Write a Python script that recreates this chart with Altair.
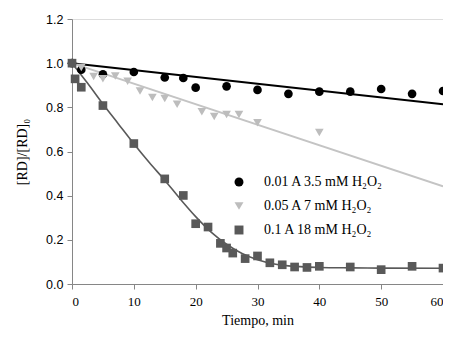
import altair as alt
import pandas as pd

# ---- data ----
s1_name = "0.01 A 3.5 mM H₂O₂"
s2_name = "0.05 A 7 mM H₂O₂"
s3_name = "0.1 A 18 mM H₂O₂"

s1_x = [0, 1.5, 5, 10, 15, 18, 20, 25, 30, 35, 40, 45, 50, 55, 60]
s1_y = [1.0, 0.97, 0.95, 0.96, 0.935, 0.933, 0.889, 0.895, 0.879, 0.861, 0.871, 0.871, 0.883, 0.861, 0.874]

s2_x = [0, 1.5, 3.5, 5, 7, 9, 11, 13, 15, 17, 21, 23, 25, 27, 30, 40]
s2_y = [1.0, 0.98, 0.94, 0.93, 0.942, 0.918, 0.874, 0.844, 0.84, 0.814, 0.78, 0.758, 0.767, 0.767, 0.73, 0.686]

s3_x = [0, 0.5, 1.5, 5, 10, 15, 18, 20, 22, 24, 25, 26, 28, 30, 32, 34, 36, 38, 40, 45, 50, 55, 60]
s3_y = [1.0, 0.929, 0.891, 0.808, 0.636, 0.476, 0.401, 0.273, 0.258, 0.184, 0.163, 0.140, 0.115, 0.127,
        0.096, 0.087, 0.077, 0.075, 0.080, 0.077, 0.065, 0.080, 0.072]

fit1_x = [0, 60]
fit1_y = [1.0, 0.814]
fit2_x = [0, 60]
fit2_y = [1.0, 0.442]
fit3_x = [0, 2.5, 5, 7.5, 10, 12.5, 15, 17.5, 20, 22.5, 25, 27.5, 30, 32.5, 35, 40, 45, 50, 60]
fit3_y = [1.0, 0.91, 0.815, 0.725, 0.635, 0.55, 0.47, 0.385, 0.305, 0.235, 0.18, 0.138, 0.11, 0.092,
          0.082, 0.075, 0.073, 0.072, 0.071]

x_ticks = [0, 10, 20, 30, 40, 50, 60]
y_ticks = [0.0, 0.2, 0.4, 0.6, 0.8, 1.0, 1.2]

names = [s1_name, s2_name, s3_name]
colors = ["#000000", "#bdbdbd", "#595959"]
shapes = ["circle", "triangle-down", "square"]

pts = pd.concat([
    pd.DataFrame({"t": s1_x, "v": s1_y, "serie": s1_name, "ord": 0}),
    pd.DataFrame({"t": s2_x, "v": s2_y, "serie": s2_name, "ord": 1}),
    pd.DataFrame({"t": s3_x, "v": s3_y, "serie": s3_name, "ord": 2}),
])
fits = [
    (pd.DataFrame({"t": fit1_x, "v": fit1_y}), colors[0], 2),
    (pd.DataFrame({"t": fit2_x, "v": fit2_y}), "#c4c4c4", 2),
    (pd.DataFrame({"t": fit3_x, "v": fit3_y}), colors[2], 1.6),
]

xscale = alt.Scale(domain=[0, 60], nice=False, zero=False)
yscale = alt.Scale(domain=[0, 1.2], nice=False)

xax = alt.Axis(values=x_ticks, grid=False, labelFont="Liberation Serif", labelFontSize=13,
               labelColor="#000", title="Tiempo, min", titleFont="Liberation Serif",
               titleFontSize=14, titleFontWeight="normal", titleColor="#000",
               titlePadding=5, tickSize=5, tickColor="#868686", domainColor="#868686",
               labelPadding=6)
yax = alt.Axis(values=y_ticks, grid=False, format=".1f", labelFont="Liberation Sans",
               labelFontSize=12.5, labelColor="#000", title="[RD]/[RD]₀",
               titleFont="Liberation Serif", titleFontSize=14, titleFontWeight="normal",
               titleColor="#000", titlePadding=16, tickSize=5, tickColor="#868686",
               domainColor="#868686", labelPadding=4)

layers = []
for df, col, w in fits:
    layers.append(alt.Chart(df).mark_line(color=col, strokeWidth=w, interpolate="monotone").encode(
        x=alt.X("t:Q", scale=xscale, axis=xax),
        y=alt.Y("v:Q", scale=yscale, axis=yax),
    ))

points = alt.Chart(pts).mark_point(filled=True, size=75, opacity=1).encode(
    x=alt.X("t:Q", scale=xscale, axis=xax),
    y=alt.Y("v:Q", scale=yscale, axis=yax),
    color=alt.Color("serie:N", scale=alt.Scale(domain=names, range=colors),
                    legend=alt.Legend(title=None, orient="none", legendX=160, legendY=156,
                                      labelFont="Liberation Serif", labelFontSize=14,
                                      labelColor="#000", symbolSize=80, rowPadding=10,
                                      labelOffset=18, symbolStrokeWidth=0)),
    shape=alt.Shape("serie:N", scale=alt.Scale(domain=names, range=shapes)),
    order=alt.Order("ord:Q"),
)
layers.append(points)

chart = alt.layer(*layers).properties(
    width=371, height=265,
    autosize=alt.AutoSizeParams(type="none"),
    padding={"left": 64, "top": 11, "right": 0, "bottom": 46},
).configure_view(stroke="#868686", strokeWidth=1).configure(background="white")

chart.save("out.html", embed_options={"renderer": "svg", "actions": False})
